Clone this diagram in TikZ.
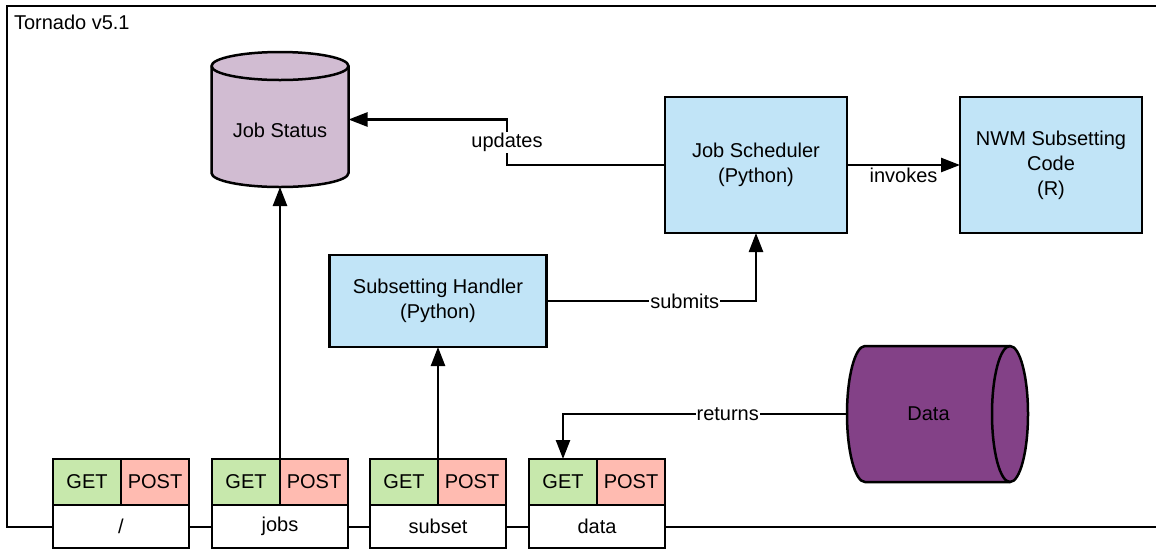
\documentclass[tikz,border=0pt]{standalone}
\usepackage{fontspec}
\setmainfont{Liberation Sans}
\usetikzlibrary{arrows.meta}

\definecolor{boxblue}{HTML}{C1E4F7}
\definecolor{statusmauve}{HTML}{D1BCD2}
\definecolor{datapurple}{HTML}{834187}
\definecolor{getgreen}{HTML}{C7E8AC}
\definecolor{postred}{HTML}{FFBBB1}

\begin{document}
\begin{tikzpicture}[x=1pt, y=-1pt, line width=2.5pt,
  font=\fontsize{20}{25}\selectfont,
  every node/.style={outer sep=0pt},
  codebox/.style={draw, fill=boxblue, align=center, inner sep=2pt},
  storearea/.style={inner sep=0pt},
  getcell/.style={draw, fill=getgreen, minimum width=68pt, minimum height=46pt, inner sep=0pt},
  postcell/.style={draw, fill=postred, minimum width=68pt, minimum height=46pt, inner sep=0pt},
  namecell/.style={draw, fill=white, minimum width=136pt, minimum height=43pt, inner sep=0pt},
  flow/.style={-{Triangle[length=19pt, width=14pt]}},
  flowlabel/.style={fill=white, inner sep=1pt}
]

\useasboundingbox ( 0, 0 ) rectangle ( 1156, 550 );
\clip ( 0, 0 ) rectangle ( 1156, 550 );

% Tornado frame
\draw ( 7, 6 ) rectangle ( 1180, 527 );
\node (tornado) at ( 14, 22 ) [anchor=west, inner sep=0pt] {Tornado v5.1};

% Job Status store (upright cylinder)
\filldraw [fill=statusmauve] ( 211.5, 66 ) -- ( 211.5, 173 )
  arc [start angle=180, end angle=360, x radius=68.5pt, y radius=14pt] -- ( 348.5, 66 )
  arc [start angle=0, end angle=180, x radius=68.5pt, y radius=14pt] -- cycle;
\draw ( 211.5, 66 ) arc [start angle=180, end angle=360, x radius=68.5pt, y radius=14pt];
\node (jobstatus) at ( 280, 119.5 ) [storearea, minimum width=137pt, minimum height=135pt, text height=35pt, text depth=0pt] {Job Status};

% Data store (lying cylinder)
\filldraw [fill=datapurple] ( 865, 346 ) -- ( 1010, 346 )
  arc [start angle=90, end angle=-90, x radius=18pt, y radius=68pt] -- ( 865, 482 )
  arc [start angle=270, end angle=90, x radius=18pt, y radius=68pt] -- cycle;
\draw ( 1010, 346 ) arc [start angle=90, end angle=270, x radius=18pt, y radius=68pt];
\node (datastore) at ( 928.5, 414 ) [storearea, minimum width=163pt, minimum height=136pt] {Data};

% Python and R code
\node (scheduler) at ( 756, 165 ) [codebox, minimum width=182pt, minimum height=136pt] {Job Scheduler\\(Python)};
\node (nwmcode) at ( 1051, 165 ) [codebox, minimum width=182pt, minimum height=136pt] {NWM Subsetting\\Code\\(R)};
\node (handler) at ( 438, 301 ) [codebox, minimum width=217pt, minimum height=92pt] {Subsetting Handler\\(Python)};

% Endpoints
\node (rootget) at ( 87, 482 ) [getcell] {GET};
\node (rootpost) at ( 155, 482 ) [postcell] {POST};
\node (rootname) at ( 121, 526.5 ) [namecell] {/};

\node (jobsget) at ( 246, 482 ) [getcell] {GET};
\node (jobspost) at ( 314, 482 ) [postcell] {POST};
\node (jobsname) at ( 280, 526.5 ) [namecell] {jobs};

\node (subsetget) at ( 404, 482 ) [getcell] {GET};
\node (subsetpost) at ( 472, 482 ) [postcell] {POST};
\node (subsetname) at ( 438, 526.5 ) [namecell] {subset};

\node (dataget) at ( 563, 482 ) [getcell] {GET};
\node (datapost) at ( 631, 482 ) [postcell] {POST};
\node (dataname) at ( 597, 526.5 ) [namecell] {data};

% Connectors
\draw [flow] (scheduler.west) -- ++( -158, 0 ) |- node [pos=0.25, flowlabel] {updates} (jobstatus.east);
\draw [flow] (scheduler.east) -- node [below=2pt, inner sep=1pt] {invokes} (nwmcode.west);
\draw [flow] (handler.east) -| node [pos=0.33, flowlabel] {submits} (scheduler.south);
\draw [flow] (datastore.west) -| node [pos=0.21, flowlabel] {returns} (dataget.north);
\draw [flow] (jobsget.north east) -- (jobstatus.south);
\draw [flow] (subsetget.north east) -- (handler.south);

\end{tikzpicture}
\end{document}
